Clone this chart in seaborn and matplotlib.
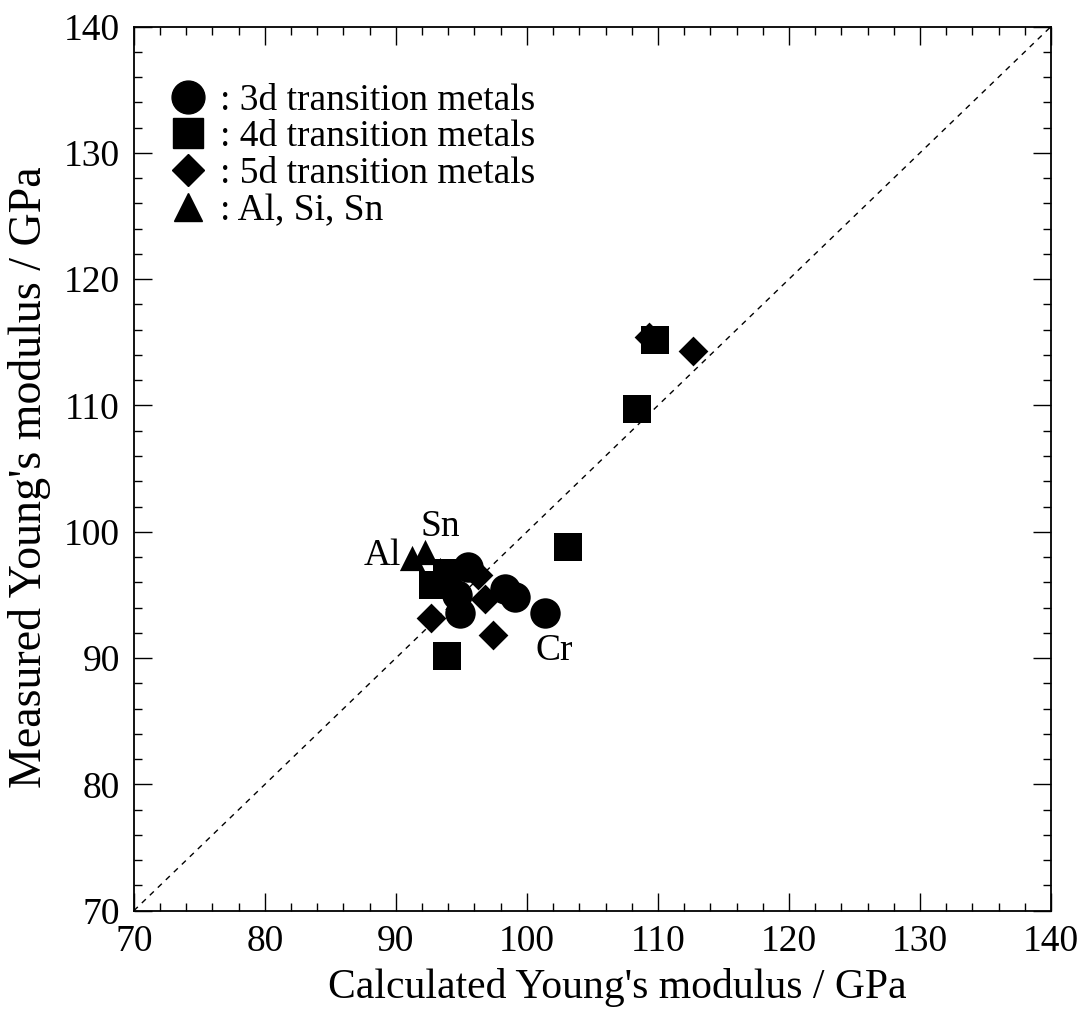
import pandas as pd
import matplotlib
matplotlib.use("Agg")
import matplotlib.pyplot as plt
import seaborn as sns
from matplotlib.ticker import MultipleLocator
from matplotlib.lines import Line2D

# values (GPa)
x_3d = [95.5, 94.9, 94.7, 98.3, 99.1, 101.4]
y_3d = [97.2, 93.6, 95.0, 95.5, 94.8, 93.6]
x_4d = [92.8, 93.9, 93.9, 103.1, 108.4, 109.8]
y_4d = [95.8, 96.7, 90.2, 98.8, 109.7, 115.2]
x_5d = [92.7, 96.8, 97.4, 96.3, 109.3, 112.7]
y_5d = [93.2, 94.7, 91.8, 96.6, 115.4, 114.3]
x_sp = [91.2, 92.2, 93.4]
y_sp = [97.9, 98.4, 97.0]

groups = ["3d transition metals", "4d transition metals",
          "5d transition metals", "Al, Si, Sn"]
markers = {groups[0]: "o", groups[1]: "s", groups[2]: "D", groups[3]: "^"}
sizes = {groups[0]: 480, groups[1]: 420, groups[2]: 230, groups[3]: 330}

df = pd.concat([
    pd.DataFrame({"calc": x_3d, "meas": y_3d, "group": groups[0]}),
    pd.DataFrame({"calc": x_4d, "meas": y_4d, "group": groups[1]}),
    pd.DataFrame({"calc": x_5d, "meas": y_5d, "group": groups[2]}),
    pd.DataFrame({"calc": x_sp, "meas": y_sp, "group": groups[3]}),
], ignore_index=True)

sns.set_style("ticks")
plt.rcParams["font.family"] = ["Liberation Serif", "DejaVu Serif"]
plt.rcParams["font.size"] = 27
for k in ["text.color", "axes.labelcolor", "xtick.color", "ytick.color",
          "axes.edgecolor"]:
    plt.rcParams[k] = "black"

fig = plt.figure(figsize=(10.88, 10.21), dpi=100)
ax = fig.add_axes([0.123, 0.108, 0.843, 0.866])

ax.plot([70, 140], [70, 140], ls=(0, (4, 4)), color="black", lw=1.0, zorder=1)

for g in groups:
    sub = df[df["group"] == g]
    sns.scatterplot(data=sub, x="calc", y="meas", marker=markers[g],
                    s=sizes[g], color="black", edgecolor="black",
                    linewidth=0, ax=ax, zorder=3, legend=False)

ax.text(90.4, 98.1, "Al", fontsize=27, ha="right", va="center")
ax.text(93.4, 100.4, "Sn", fontsize=27, ha="center", va="center")
ax.text(102.1, 90.6, "Cr", fontsize=27, ha="center", va="center")

ax.set_xlim(70, 140)
ax.set_ylim(70, 140)
ax.xaxis.set_major_locator(MultipleLocator(10))
ax.yaxis.set_major_locator(MultipleLocator(10))
ax.xaxis.set_minor_locator(MultipleLocator(2))
ax.yaxis.set_minor_locator(MultipleLocator(2))
ax.tick_params(which="both", direction="in", top=True, right=True,
               width=1.0, labelsize=27, pad=10)
ax.tick_params(which="major", length=13)
ax.tick_params(which="minor", length=6)
for sp in ax.spines.values():
    sp.set_linewidth(1.3)

ax.set_xlabel("Calculated Young's modulus / GPa", fontsize=30)
ax.set_ylabel("Measured Young's modulus / GPa", fontsize=33)
ax.xaxis.set_label_coords(0.527, -0.065)
ax.yaxis.set_label_coords(-0.09, 0.49)

handles = [Line2D([], [], marker=markers[g], color="black", ls="none",
                  markersize=(sizes[g] ** 0.5) * 1.08) for g in groups]
labels = [": " + g for g in groups]
ax.legend(handles, labels, loc="upper left", frameon=False,
          fontsize=27, handletextpad=0.25, labelspacing=0.06,
          borderaxespad=0, borderpad=0, handlelength=1.25,
          bbox_to_anchor=(0.033, 0.936))

fig.savefig("out.png", dpi=100)
